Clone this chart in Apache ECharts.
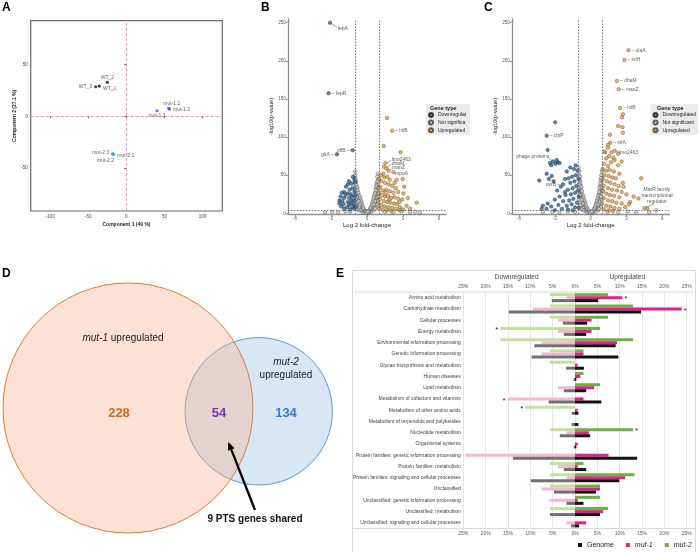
<!DOCTYPE html>
<html><head><meta charset="utf-8">
<script src="https://cdn.jsdelivr.net/npm/echarts@6/dist/echarts.min.js"></script>
<style>html,body{margin:0;padding:0;background:#fff}#c{width:700px;height:552px}</style>
</head><body><div id="c"></div>
<script>
// ---------------- DATA ----------------
// Panel A: PCA
const pcaWT   = [[-35.4, 29.3, 'WT_1'], [-24.9, 32.9, 'WT_2'], [-40.2, 28.6, 'WT_3']];
const pcaMut1 = [[55.7, 7.6, 'mut-1.1'], [56.6, 7.0, 'mut-1.2'], [40.3, 5.4, 'mut-1.3']];
const pcaMut2 = [[-16.5, -37, 'mut-2.1'], [-18.0, -36.5, 'mut-2.2'], [-17.8, -36, 'mut-2.3']];
const pcaXTicks = [-100, -50, 0, 50, 100];
const pcaYTicks = [-50, 0, 50];

// Panel B: volcano mut-1
const bDown = [[-3.08,250],[-3.2,157.5,'fepR'],[-1.19,82.7,'pflB'],[-2.5,77.4,'gltA'],
 [-1.17,48],[-1.05,44],[-1.6,38],[-1.3,39],[-1.0,41],[-1.75,35],[-1.45,31],[-1.2,33],[-1.9,28],[-2.1,27],
 [-1.6,26],[-1.35,25],[-1.05,28],[-2.2,22],[-1.9,20],[-1.5,20],[-1.25,22],[-1.0,23],[-2.3,17],[-2.05,16],
 [-1.6,15],[-1.3,17],[-2.3,13],[-1.95,12],[-1.5,11],[-1.1,12],[-1.65,8],[-1.2,8],[-1.9,6],[-1.4,5],
 [-1.05,6],[-2.15,9],[-1.8,24],[-1.1,17],[-1.35,13],[-0.95,9],[-1.5,42]];
const bUp = [[1.67,125],[2.1,108.4,'inlB'],[1.39,88.3],[2.8,80],[1.53,65.6],[1.42,61],[1.61,59],[1.36,52],
 [2.2,54],[1.8,56],[2.47,44],[2.97,45],[3.1,35],[3.03,26],[2.94,18],[4.14,14],[3.3,10],[2.75,8],[3.6,6],
 [1.0,45],[1.2,42],[1.5,40],[1.8,38],[2.1,36],[2.4,33],[1.1,35],[1.3,30],[1.6,31],[1.9,29],[2.2,27],
 [2.6,28],[1.0,27],[1.25,24],[1.5,22],[1.75,23],[2.0,20],[2.3,21],[2.6,19],[1.1,19],[1.4,16],[1.7,15],
 [1.95,14],[2.25,13],[2.5,12],[0.95,14],[1.2,11],[1.5,9],[1.8,8],[2.1,7],[2.4,6],[1.0,7],[1.3,5],
 [1.65,4],[2.0,3],[2.7,4],[3.0,5],[1.15,50],[1.45,47],[1.7,48],[1.9,44],[2.3,40],[0.9,22],[0.95,33],
 [2.7,15],[3.4,20],[1.55,27],[1.85,18]];
const bNS = [[-1.0,55],[-0.98,50],[-0.95,46],[-0.9,42],[-1.05,38],[-0.92,35],[-0.85,32],[-0.97,30],[-0.8,28],
 [-0.9,25],[-0.75,24],[-0.7,21],[-0.85,19],[-0.65,18],[-0.6,15],[-0.8,14],[-0.55,12],[-0.7,11],[-0.5,9],
 [-0.45,7],[-0.6,6],[-0.35,5],[-0.3,3],[-0.2,2],[-0.1,1],[-0.4,2],[-0.75,4],[-0.9,8],[-1.0,16],[-0.95,21],
 [-0.88,10],[-0.65,9],[-0.52,4],[-0.25,1],
 [-0.95,40],[-0.88,37],[-0.8,34],[-0.78,30],[-0.72,27],[-0.62,23],[-0.58,20],[-0.5,17],[-0.45,14],[-0.4,11],
 [-0.32,8],[-0.28,6],[-0.18,4],[-0.15,3],[-0.08,2],[-0.6,12],[-0.7,16],[-0.85,22],
 [0.9,52],[0.85,48],[0.95,44],[0.8,40],[0.9,36],[0.75,33],[0.85,30],[0.7,27],[0.8,24],[0.65,22],[0.75,19],
 [0.6,17],[0.7,14],[0.55,13],[0.5,10],[0.62,9],[0.45,7],[0.4,5],[0.3,3],[0.2,2],[0.1,1],[0.35,2],[0.55,4],
 [0.8,8],[0.9,16],[0.95,25],[0.85,12],[0.68,6],[0.0,0.5],[0.15,0.8],[-0.05,0.5],
 [0.88,42],[0.82,37],[0.77,35],[0.72,30],[0.66,26],[0.6,23],[0.55,20],[0.5,17],[0.45,14],[0.4,11],[0.32,8],
 [0.27,6],[0.18,4],[0.12,3],[0.06,2],[0.6,12],[0.7,16],[0.82,21],
 [-3.5,1.5],[-2.9,2],[-2.4,1.2],[-1.8,2.5],[-1.4,2],[1.5,2],[2.2,1.5],[2.9,2.5],[3.6,1.5],[4.0,2.2],[4.4,1.2]];

// Panel C: volcano mut-2
const cDown = [[-2.97,119.4],[-3.68,101.8,'clpP'],[-3.6,83],[-3.4,66],[-3.15,68],[-2.95,65],[-2.75,67],
 [-2.6,66],[-3.3,63],[-2.85,70],[-3.68,52],[-3.26,49],[-3.5,45],[-3.1,42],[-4.3,43],[-2.3,38,'uvrB'],
 [-2.0,55],[-1.7,60],[-1.4,58],[-1.1,56],[-1.25,50],[-1.55,48],[-1.85,46],[-2.15,45],[-1.0,45],[-1.35,42],
 [-1.7,40],[-2.5,35],[-1.2,36],[-1.5,33],[-1.9,31],[-2.8,30],[-1.05,30],[-1.3,27],[-1.65,25],[-2.1,24],
 [-2.6,22],[-1.0,22],[-1.45,19],[-1.8,17],[-2.3,16],[-3.0,18],[-1.15,14],[-1.6,12],[-2.0,10],[-2.7,11],
 [-1.3,8],[-1.0,7],[-1.9,5],[-2.4,6],[-3.3,9],[-3.6,13],[-4.0,10],[-4.1,6],[-3.7,6],[-3.0,4],[-1.5,4],
 [-2.15,28],[-1.25,63]];
const cUp = [[3.16,214,'ulaA'],[2.82,201,'inlH'],[2.2,173.6,'dhaM'],[2.35,162.7,'manZ'],[2.47,138,'inlB'],
 [2.7,130],[2.63,126],[2.3,114.5],[2.66,113],[2.7,105.8],[1.62,103],[1.64,92.6,'inlA'],[1.45,90],[1.2,80],
 [1.45,86],[1.17,81],[1.73,80],[2.0,82],[2.3,78],[1.55,75],[1.9,73],[2.59,68],[1.3,72],[2.0,70],[1.7,67],
 [1.1,65],[1.45,62],[2.3,63],[1.0,58],[1.3,56],[1.6,57],[1.95,55],[2.4,52],[1.15,50],[1.5,49],[1.8,47],
 [2.1,46],[2.7,40],[1.0,44],[1.35,42],[1.65,40],[2.0,38],[2.35,36],[2.75,35],[1.1,36],[1.45,33],[1.8,31],
 [2.2,30],[2.6,28],[1.0,29],[1.3,26],[1.6,24],[1.95,23],[2.4,21],[3.0,25],[1.1,20],[1.45,17],[1.8,16],
 [2.15,14],[2.6,13],[3.3,15],[0.95,13],[1.3,10],[1.65,9],[2.0,7],[2.4,6],[2.9,8],[1.1,5],[1.5,4],[1.85,3],
 [4.23,46],[4.0,19.5],[4.5,7],[4.75,6.5],[3.6,22],[3.2,12]];
const cNS = [[-1.0,60],[-0.97,55],[-0.95,50],[-1.02,46],[-0.9,43],[-0.93,39],[-0.85,36],[-0.98,33],[-0.8,31],
 [-0.88,28],[-0.75,26],[-0.92,24],[-0.7,22],[-0.82,20],[-0.65,19],[-0.6,16],[-0.77,15],[-0.55,13],[-0.68,12],
 [-0.5,10],[-0.45,8],[-0.6,7],[-0.38,6],[-0.3,4],[-0.22,2],[-0.12,1],[-0.42,3],[-0.72,5],[-0.9,9],[-1.0,18],
 [-0.85,11],[-0.55,4],[-0.28,1],[-0.95,29],
 [-0.9,48],[-0.86,40],[-0.78,35],[-0.74,29],[-0.66,24],[-0.58,21],[-0.52,17],[-0.47,14],[-0.41,11],[-0.34,8],
 [-0.26,6],[-0.17,4],[-0.09,2],[-0.62,13],[-0.73,18],[-0.88,24],[-0.97,38],
 [0.95,55],[0.9,50],[0.97,46],[0.85,43],[0.92,39],[0.8,36],[0.88,33],[0.75,30],[0.83,27],[0.7,25],[0.78,22],
 [0.65,20],[0.72,17],[0.6,15],[0.55,13],[0.66,11],[0.5,9],[0.44,7],[0.58,6],[0.36,5],[0.28,3],[0.2,2],
 [0.1,1],[0.4,2],[0.62,4],[0.85,8],[0.95,18],[1.0,30],[0.8,12],[0.7,6],[0.02,0.5],[0.14,0.7],[-0.06,0.6],
 [0.87,46],[0.82,39],[0.76,34],[0.71,28],[0.64,23],[0.57,19],[0.52,16],[0.46,13],[0.4,10],[0.33,7],
 [0.25,5],[0.16,3],[0.08,2],[0.62,12],[0.74,15],[0.86,22],[0.93,35],
 [-4.0,1.5],[-3.2,2],[-2.6,1],[-1.9,2.5],[-1.3,1.8],[1.4,2],[2.3,1.5],[3.1,2.5],[3.8,1.2],[5.5,4],[4.9,1.5]];
const fcCut = [-1, 1];
const pCut = 4;
const volcXTicks = [-6, -3, 0, 3, 6];
const volcYTicks = [0, 50, 100, 150, 200, 250];
const geneTypes = ['Downregulated', 'Not significant', 'Upregulated'];

// Panel D: Venn counts
const vennCounts = { mut1Only: 228, shared: 54, mut2Only: 134 };
const vennNote = '9 PTS genes shared';

// Panel E: KEGG categories (% of genes)
const eCategories = ['Amino acid metabolism','Carbohydrate metabolism','Cellular processes','Energy metabolism',
 'Environmental information processing','Genetic Information processing','Glycan biosynthesis and metabolism',
 'Human diseases','Lipid metabolism','Metabolism of cofactors and vitamins','Metabolism of other amino acids',
 'Metabolism of terpenoids and polyketides','Nucleotide metabolism','Organismal systems',
 'Protein families: genetic information processing','Protein families: metabolism',
 'Protein families: signaling and cellular processes','Unclassified','Unclassified: genetic information processing',
 'Unclassified: metabolism','Unclassified: signaling and cellular processes'];
const genomePct = [5.2,14.8,2.7,2.5,9.1,9.7,2.0,0.3,2.5,5.9,0.75,0.75,3.4,0.3,13.9,2.5,9.9,4.7,1.9,5.6,0.9];
const mut1Up    = [10.6,23.9,3.7,3.7,9.4,1.9,0.6,1.2,4.3,1.9,0.6,0,3.1,0.6,7.5,0.6,11.2,5.6,0.6,6.3,2.5];
const mut2Up    = [7.4,13.0,7.4,5.6,13.0,1.9,0,1.9,5.6,0,0,0,13.0,0,0,1.9,13.3,5.6,5.6,7.4,0];
const mut1Down  = [1.9,9.4,3.8,3.8,7.5,7.5,0,0,3.8,15.1,0,0,1.9,0,24.5,3.8,1.9,7.5,5.7,0,1.9];
const mut2Down  = [5.6,5.6,5.6,16.7,16.7,5.6,5.6,0,0,0,11.1,0,5.6,0,0,5.6,5.6,5.6,0,5.6,0];
const eStars = { mut1Up: [0, 1], mut2Up: [12], mut1Down: [9], mut2Down: [3, 10] };

// ---------------- STYLE / LAYOUT ----------------
const F = '"Liberation Sans", Arial, sans-serif';
const pcaLabelPos = {'WT_1':['right',[0,3]], 'WT_2':['top',[0,1]], 'WT_3':['left',[0,0]],
 'mut-1.1':['top',[3,1]], 'mut-1.2':['right',[0,1]], 'mut-1.3':['bottom',[0,-1]],
 'mut-2.1':['right',[0,1]], 'mut-2.2':['bottom',[-7,0]], 'mut-2.3':['left',[0,-1]]};
const leftLabels = { pflB:1, gltA:1, uvrB:1 };
const annotB = [[-2.45,242.5,'fepA','l'],[2.06,70.9,'lmo2463','l'],[2.06,65.6,'dhaM','l'],[2.08,59.9,'manZ','l'],[2.33,52.5,'mpoA','l']];
const leadB = [[-3.0,249,-2.5,244],[2.02,69.5,1.56,65],[2.02,64.5,1.63,59.5],[2.04,59,1.82,56],[2.3,52.5,2.22,53.8]];
const annotC = [[2.37,80,'lmo2463','l'],[-6.23,74.3,'phage proteins','l'],[5.55,23.5,'MarR family\ntranscriptional\nregulator','c']];
const leadC = [[2.05,82.5,2.33,80.3],[-3.55,73,-3.15,68.5],[5.3,12.5,4.62,7.6]];

function ptData(arr, labelled) {
  return arr.map(d => {
    if (d[2] && labelled) {
      const left = leftLabels[d[2]];
      return { value: [d[0], d[1]], name: d[2],
        label: { show: true, position: left ? 'left' : 'right', distance: 1,
                 formatter: left ? d[2] + ' \u2013' : '\u2013 ' + d[2] } };
    }
    return [d[0], d[1]];
  });
}
function pcaData(arr) {
  return arr.map(d => ({ value: [d[0], d[1]], name: d[2],
    label: { show: true, position: pcaLabelPos[d[2]][0], offset: pcaLabelPos[d[2]][1], distance: 2, formatter: d[2] } }));
}
const colDown = '#2b6ca8', colUp = '#eaa33e', colNS = '#cfcfcf';
function volcSeries(gi, down, up, ns, annot, lead) {
  const common = { type: 'scatter', xAxisIndex: gi, yAxisIndex: gi, symbolSize: 3.5,
    label: { fontSize: 5, color: '#333', fontFamily: F }, z: 3 };
  return [
    Object.assign({}, common, { name: 'Not significant', data: ptData(ns, false),
      itemStyle: { color: colNS, borderColor: '#3c3c3c', borderWidth: 0.5 },
      markLine: { silent: true, symbol: ['none','none'], label: { show: false },
        lineStyle: { color: '#666', type: [1.5, 1.5], width: 0.9 },
        data: [{ xAxis: fcCut[0] }, { xAxis: fcCut[1] }, { yAxis: pCut }] } }),
    Object.assign({}, common, { name: 'Downregulated', data: ptData(down, true),
      itemStyle: { color: colDown, borderColor: '#1b1b1b', borderWidth: 0.5 } }),
    Object.assign({}, common, { name: 'Upregulated', data: ptData(up, true),
      itemStyle: { color: colUp, borderColor: '#4a3a22', borderWidth: 0.5 } }),
    { type: 'scatter', name: 'annot' + gi, xAxisIndex: gi, yAxisIndex: gi, symbolSize: 0, silent: true,
      data: annot.map(a => ({ value: [a[0], a[1]], label: { show: true,
        position: a[3] === 'c' ? 'inside' : 'right', distance: 0, align: a[3] === 'c' ? 'center' : 'left',
        formatter: a[2], fontSize: 5, lineHeight: 6, color: '#333', fontFamily: F } })) },
    { type: 'custom', name: 'lead' + gi, xAxisIndex: gi, yAxisIndex: gi, silent: true,
      data: lead,
      renderItem: (params, api) => {
        const p1 = api.coord([api.value(0), api.value(1)]);
        const p2 = api.coord([api.value(2), api.value(3)]);
        return { type: 'line', shape: { x1: p1[0], y1: p1[1], x2: p2[0], y2: p2[1] },
          style: { stroke: '#444', lineWidth: 0.5 } };
      } }
  ];
}
function volcAxes(gi) {
  return {
    x: { gridIndex: gi, type: 'value', min: -6.6, max: 6.6,
      axisLine: { show: true, onZero: false, lineStyle: { color: '#8f8f8f', width: 1.3 } },
      axisTick: { show: true, customValues: volcXTicks, length: 2, lineStyle: { color: '#8f8f8f' } },
      axisLabel: { customValues: volcXTicks, fontSize: 4.5, color: '#555', margin: 2, fontFamily: F },
      splitLine: { show: false },
      name: 'Log 2 fold-change', nameLocation: 'middle', nameGap: 7,
      nameTextStyle: { fontSize: 6, color: '#222', fontFamily: F } },
    y: { gridIndex: gi, type: 'value', min: -1, max: 255,
      axisLine: { show: true, onZero: false, lineStyle: { color: '#8f8f8f', width: 1.3 } },
      axisTick: { show: true, customValues: volcYTicks, length: 2, lineStyle: { color: '#8f8f8f' } },
      axisLabel: { customValues: volcYTicks, fontSize: 4.5, color: '#555', margin: 2, fontFamily: F },
      splitLine: { show: false },
      name: '-log10(p-value)', nameLocation: 'middle', nameGap: 10, nameRotate: 90,
      nameTextStyle: { fontSize: 5.5, color: '#222', fontFamily: F } }
  };
}
const vB = volcAxes(1), vC = volcAxes(2);

function barData(arr, sign, starIdx) {
  return arr.map((v, i) => {
    const val = v === 0 ? null : sign * v;
    if (starIdx && starIdx.indexOf(i) >= 0) {
      return { value: val, label: { show: true, formatter: '*', position: sign > 0 ? 'right' : 'left',
        distance: 2, fontSize: 8, color: '#222', offset: [0, 1.5] } };
    }
    return val;
  });
}
const barCommon = { type: 'bar', xAxisIndex: 3, yAxisIndex: 3, barWidth: 3, barGap: '0%' };
const eSeries = [
  Object.assign({}, barCommon, { name: 'mut-2', stack: 'm2', itemStyle: { color: '#6bb043' }, data: barData(mut2Up, 1, eStars.mut2Up) }),
  Object.assign({}, barCommon, { name: 'mut-2 down', stack: 'm2', itemStyle: { color: '#bfe39a' }, data: barData(mut2Down, -1, eStars.mut2Down) }),
  Object.assign({}, barCommon, { name: 'mut-1', stack: 'm1', itemStyle: { color: '#e01f8a' }, data: barData(mut1Up, 1, eStars.mut1Up) }),
  Object.assign({}, barCommon, { name: 'mut-1 down', stack: 'm1', itemStyle: { color: '#f6b5d3' }, data: barData(mut1Down, -1, eStars.mut1Down) }),
  Object.assign({}, barCommon, { name: 'Genome', stack: 'g', itemStyle: { color: '#111111' }, data: barData(genomePct, 1) }),
  Object.assign({}, barCommon, { name: 'Genome down', stack: 'g', itemStyle: { color: '#707070' }, data: barData(genomePct, -1) })
];

// Venn geometry (pixels)
const VB = { cx: 128, cy: 408, r: 125 }, VS = { cx: 258.7, cy: 411.3, r: 73.7 };
const tip = [228.3, 442], tail = [255, 510];
const dx = tip[0] - tail[0], dy = tip[1] - tail[1], dl = Math.hypot(dx, dy), ux = dx / dl, uy = dy / dl;
const hb = [tip[0] - 8 * ux, tip[1] - 8 * uy];

function T(x, y, text, font, fill, align, valign, extra) {
  return { type: 'text', x: x, y: y, silent: true, z: 10,
    style: Object.assign({ text: text, font: font, fill: fill || '#000', textAlign: align || 'left', textVerticalAlign: valign || 'top' }, extra || {}) };
}

const graphics = [
  T(2, 2, 'A', 'bold 12px ' + F), T(261, 2, 'B', 'bold 12px ' + F), T(484, 2, 'C', 'bold 12px ' + F),
  T(2, 268, 'D', 'bold 12px ' + F), T(336, 268, 'E', 'bold 12px ' + F),
  { type: 'circle', silent: true, z: 1, shape: { cx: VS.cx, cy: VS.cy, r: VS.r }, style: { fill: '#d7e7f6', stroke: '#5b9bd5', lineWidth: 1 } },
  { type: 'circle', silent: true, z: 2, shape: { cx: VB.cx, cy: VB.cy, r: VB.r }, style: { fill: 'rgba(246,176,142,0.38)', stroke: '#e07b39', lineWidth: 1 } },
  T(123, 338, '{i|mut-1} upregulated', '10px ' + F, '#222', 'center', 'middle', { rich: { i: { fontStyle: 'italic', fontSize: 10, fontFamily: F } } }),
  T(286, 362, 'mut-2', 'italic 10px ' + F, '#222', 'center', 'middle'),
  T(286, 375, 'upregulated', '10px ' + F, '#222', 'center', 'middle'),
  T(119, 413, String(vennCounts.mut1Only), 'bold 13px ' + F, '#d2691e', 'center', 'middle'),
  T(219, 413, String(vennCounts.shared), 'bold 13px ' + F, '#7b2fbe', 'center', 'middle'),
  T(286, 413, String(vennCounts.mut2Only), 'bold 13px ' + F, '#2f7dcc', 'center', 'middle'),
  { type: 'line', silent: true, z: 10, shape: { x1: tail[0], y1: tail[1], x2: hb[0], y2: hb[1] }, style: { stroke: '#000', lineWidth: 2.3 } },
  { type: 'polygon', silent: true, z: 10, shape: { points: [tip, [hb[0] - 3.6 * uy, hb[1] + 3.6 * ux], [hb[0] + 3.6 * uy, hb[1] - 3.6 * ux]] }, style: { fill: '#000' } },
  T(255, 519.5, vennNote, 'bold 10px ' + F, '#111', 'center', 'middle'),
  { type: 'rect', silent: true, z: 0, shape: { x: 352.5, y: 270.5, width: 343, height: 290 }, style: { fill: 'none', stroke: '#d9d9d9', lineWidth: 1 } },
  { type: 'line', silent: true, z: 0, shape: { x1: 353, y1: 292, x2: 695, y2: 292 }, style: { stroke: '#d9d9d9', lineWidth: 1 } },
  { type: 'line', silent: true, z: 0, shape: { x1: 353, y1: 528.5, x2: 695, y2: 528.5 }, style: { stroke: '#d9d9d9', lineWidth: 1 } },
  T(516.7, 277.5, 'Downregulated', '6.5px ' + F, '#404040', 'center', 'middle'),
  T(627.3, 277.5, 'Upregulated', '6.5px ' + F, '#404040', 'center', 'middle')
];

const option = {
  animation: false,
  backgroundColor: '#fff',
  textStyle: { fontFamily: F },
  title: [
    { text: 'Gene type', left: 430, top: 105, textStyle: { fontSize: 5.5, fontWeight: 'bold', color: '#222', fontFamily: F }, padding: 0 },
    { text: 'Gene type', left: 657, top: 105, textStyle: { fontSize: 5.5, fontWeight: 'bold', color: '#222', fontFamily: F }, padding: 0 }
  ],
  legend: [
    { data: geneTypes, orient: 'vertical', left: 426, top: 104, padding: [8, 2, 1.5, 2], itemGap: 1.6,
      itemWidth: 4, itemHeight: 4, icon: 'circle', backgroundColor: '#ebebeb', selectedMode: false,
      textStyle: { fontSize: 5, lineHeight: 6, color: '#222', fontFamily: F, width: 30, overflow: 'truncate', ellipsis: '' } },
    { data: geneTypes, orient: 'vertical', left: 650.5, top: 104, padding: [8, 2, 1.5, 2], itemGap: 1.6,
      itemWidth: 4, itemHeight: 4, icon: 'circle', backgroundColor: '#ebebeb', selectedMode: false,
      textStyle: { fontSize: 5, lineHeight: 6, color: '#222', fontFamily: F } },
    { data: [{ name: 'Genome', icon: 'rect' }, { name: 'mut-1', icon: 'rect' }, { name: 'mut-2', icon: 'rect' }],
      left: 578, top: 541.5, itemWidth: 4, itemHeight: 4, itemGap: 12, selectedMode: false, padding: 0,
      formatter: n => n === 'Genome' ? n : '{i|' + n + '}',
      textStyle: { fontSize: 7, color: '#222', fontFamily: F, rich: { i: { fontStyle: 'italic', fontSize: 7, fontFamily: F } } } }
  ],
  grid: [
    { left: 30.7, top: 20.7, width: 191.6, height: 190.3, show: true, borderColor: '#6a6a6a', borderWidth: 1.2, backgroundColor: 'transparent' },
    { left: 287.8, top: 18.9, width: 158.4, height: 195.2 },
    { left: 511.8, top: 18.9, width: 157.7, height: 195.2 },
    { left: 463.3, top: 292, width: 223.4, height: 236.5 }
  ],
  xAxis: [
    { gridIndex: 0, type: 'value', min: -125.5, max: 126, axisLine: { show: false },
      axisTick: { show: true, customValues: pcaXTicks, length: 2, lineStyle: { color: '#666' } },
      axisLabel: { customValues: pcaXTicks, fontSize: 4.5, color: '#444', margin: 3, fontFamily: F },
      splitLine: { show: false }, name: 'Component 1 (49 %)', nameLocation: 'middle', nameGap: 11,
      nameTextStyle: { fontSize: 5, fontWeight: 'bold', color: '#222', fontFamily: F } },
    vB.x, vC.x,
    { gridIndex: 3, type: 'value', min: -25, max: 25, interval: 5, axisLine: { show: false }, axisTick: { show: false },
      axisLabel: { formatter: v => Math.abs(v) + '%', fontSize: 5, color: '#595959', margin: 3, fontFamily: F },
      splitLine: { show: true, lineStyle: { color: '#e0e0e0', width: 0.8 } } },
    { gridIndex: 3, type: 'value', position: 'top', min: -25, max: 25, interval: 5, axisLine: { show: false }, axisTick: { show: false },
      axisLabel: { formatter: v => Math.abs(v) + '%', fontSize: 5, color: '#595959', margin: 3, fontFamily: F },
      splitLine: { show: false } }
  ],
  yAxis: [
    { gridIndex: 0, type: 'value', min: -91.6, max: 92.5, axisLine: { show: false },
      axisTick: { show: true, customValues: pcaYTicks, length: 2, lineStyle: { color: '#666' } },
      axisLabel: { customValues: pcaYTicks, fontSize: 4.5, color: '#444', margin: 3, fontFamily: F },
      splitLine: { show: false }, name: 'Component 2 (27.1 %)', nameLocation: 'middle', nameGap: 13, nameRotate: 90,
      nameTextStyle: { fontSize: 5, fontWeight: 'bold', color: '#222', fontFamily: F } },
    vB.y, vC.y,
    { gridIndex: 3, type: 'category', data: eCategories, inverse: true, axisLine: { show: false }, axisTick: { show: false },
      axisLabel: { fontSize: 5, color: '#404040', margin: 2.5, fontFamily: F, interval: 0 } }
  ],
  series: [
    { type: 'scatter', name: 'WT', xAxisIndex: 0, yAxisIndex: 0, symbolSize: 3.2, data: pcaData(pcaWT),
      itemStyle: { color: '#111' }, label: { fontSize: 5, color: '#333', fontFamily: F },
      markLine: { silent: true, symbol: ['none', 'none'], label: { show: false },
        lineStyle: { color: '#ff7096', type: [3, 2], width: 0.8 }, data: [{ xAxis: 0 }, { yAxis: 0 }] } },
    { type: 'scatter', name: 'mut-1 PCA', xAxisIndex: 0, yAxisIndex: 0, symbolSize: 3.2, data: pcaData(pcaMut1),
      itemStyle: { color: '#7a36d8' }, label: { fontSize: 5, color: '#333', fontFamily: F } },
    { type: 'scatter', name: 'mut-2 PCA', xAxisIndex: 0, yAxisIndex: 0, symbolSize: 3.2, data: pcaData(pcaMut2),
      itemStyle: { color: '#1fb0ee' }, label: { fontSize: 5, color: '#333', fontFamily: F } }
  ].concat(volcSeries(1, bDown, bUp, bNS, annotB, leadB))
   .concat(volcSeries(2, cDown, cUp, cNS, annotC, leadC))
   .concat(eSeries),
  graphic: graphics
};
const chart = echarts.init(document.getElementById('c'));
chart.setOption(option);
</script></body></html>
